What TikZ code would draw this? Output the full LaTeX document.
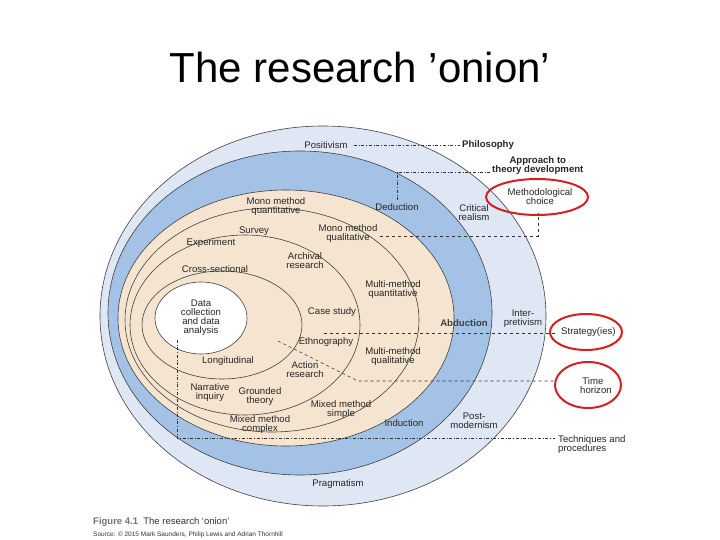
\documentclass[tikz,border=0pt]{standalone}
\usepackage{fontspec}
\setmainfont{Liberation Sans}
\definecolor{outerc}{HTML}{DFE7F5}
\definecolor{bluec}{HTML}{A3C2E6}
\definecolor{beigec}{HTML}{F5E4D0}
\definecolor{redc}{HTML}{D42020}
\begin{document}
\begin{tikzpicture}[x=1pt,y=-1pt,
  lab/.style={font=\fontsize{9.6}{10}\selectfont,align=center,inner sep=1pt,text=black!85},
  blab/.style={lab,font=\fontsize{9.6}{10}\selectfont\bfseries},
  ring/.style={draw=black!75,line width=0.6pt},
  dline/.style={draw=black!80,dashed,line width=0.6pt},
  ddline/.style={draw=black!80,dash dot,line width=0.6pt},
  redring/.style={draw=redc,line width=2pt}]
\useasboundingbox (0,0) rectangle (720,540);
\fill[white] (0,0) rectangle (720,540);
\node[font=\fontsize{42}{46}\selectfont] (title) at (360,67) {The research ’onion’};
% rings
\draw[ring,fill=outerc] (323,316) ellipse [x radius=223, y radius=190];
\draw[ring,fill=bluec] (300,313) ellipse [x radius=192, y radius=162];
\draw[ring,fill=beigec] (286,318) ellipse [x radius=168, y radius=128];
\draw[ring] (272,320) ellipse [x radius=147, y radius=112];
\draw[ring] (245,325) ellipse [x radius=115, y radius=90];
\draw[ring] (222,325) ellipse [x radius=80, y radius=54];
\draw[ring,fill=white] (201,318) ellipse [x radius=46, y radius=36];
% connector coordinates
\coordinate (p1) at (354,145); \coordinate (p2) at (460,145);
\coordinate (a1) at (397,200); \coordinate (a2) at (397,172); \coordinate (a3) at (490,172);
\coordinate (m1) at (380,236); \coordinate (m2) at (538,236); \coordinate (m3) at (538,213);
\coordinate (s1) at (324,333); \coordinate (s2) at (556,333);
\coordinate (t1) at (278,341); \coordinate (t2) at (358,381); \coordinate (t3) at (556,381);
\coordinate (q1) at (177,340); \coordinate (q2) at (177,438); \coordinate (q3) at (555,438);
\draw[ddline] (p1) -- (p2);
\draw[ddline] (a1) -- (a2) -- (a3);
\draw[dline] (m1) -- (m2) -- (m3);
\draw[dline] (s1) -- (s2);
\draw[dline] (t1) -- (t2) -- (t3);
\draw[ddline] (q1) -- (q2) -- (q3);
% labels
\node[lab,fill=outerc] (positivism) at (326,145) {Positivism};
\node[blab,anchor=west] (philosophy) at (461,145) {Philosophy};
\node[blab,anchor=west] (approach) at (491,166) {Approach to\\[-1pt]theory development};
\node[lab] (meth) at (540,197) {Methodological\\[-1pt]choice};
\node[lab] (deduction) at (397,207) {Deduction};
\node[lab] (critical) at (474,213) {Critical\\[-1pt]realism};
\node[lab] (monoquant) at (276,207) {Mono method\\[-1pt]quantitative};
\node[lab] (survey) at (254,231) {Survey};
\node[lab] (monoqual) at (348,234) {Mono method\\[-1pt]qualitative};
\node[lab] (experiment) at (211,243) {Experiment};
\node[lab] (archival) at (305,261) {Archival\\[-1pt]research};
\node[lab] (cross) at (215,269) {Cross-sectional};
\node[lab] (mmquant) at (393,290) {Multi-method\\[-1pt]quantitative};
\node[lab] (data) at (201,318) {Data\\[-1pt]collection\\[-1pt]and data\\[-1pt]analysis};
\node[lab] (case) at (332,312) {Case study};
\node[blab,text=black!75] (abduction) at (464,323) {Abduction};
\node[lab] (inter) at (523,319) {Inter-\\[-1pt]pretivism};
\node[lab,anchor=west] (strategy) at (560,332) {Strategy(ies)};
\node[lab] (ethno) at (326,342) {Ethnography};
\node[lab] (mmqual) at (393,357) {Multi-method\\[-1pt]qualitative};
\node[lab] (longit) at (228,361) {Longitudinal};
\node[lab] (action) at (305,370) {Action\\[-1pt]research};
\node[lab,anchor=west] (time) at (573,386) {Time\\[-1pt]\hspace*{6pt}horizon};
\node[lab] (narr) at (210,393) {Narrative\\[-1pt]inquiry};
\node[lab] (grounded) at (260,397) {Grounded\\[-1pt]theory};
\node[lab] (mmsimple) at (341,410) {Mixed method\\[-1pt]simple};
\node[lab] (mmcomplex) at (260,425) {Mixed method\\[-1pt]complex};
\node[lab] (induction) at (404,423) {Induction};
\node[lab] (post) at (474,421) {Post-\\[-1pt]modernism};
\node[lab,anchor=west,align=left] (tech) at (557,445) {Techniques and\\[-1pt]procedures};
\node[lab] (pragmatism) at (338,484) {Pragmatism};
% red rings
\draw[redring] (537,197) ellipse [x radius=51, y radius=18];
\draw[redring] (586,332) ellipse [x radius=36, y radius=18];
\draw[redring] (588,385) ellipse [x radius=33, y radius=23];
% caption
\node[anchor=west,inner sep=0pt,font=\fontsize{9.5}{10}\selectfont,text=black!80] (cap) at (93,522) {{\bfseries\color{black!55}Figure 4.1}\ \ The research ‘onion’};
\node[anchor=west,inner sep=0pt,font=\fontsize{6.5}{7}\selectfont,text=black!80] (src) at (93,535) {Source: © 2015 Mark Saunders, Philip Lewis and Adrian Thornhill};
\end{tikzpicture}
\end{document}
